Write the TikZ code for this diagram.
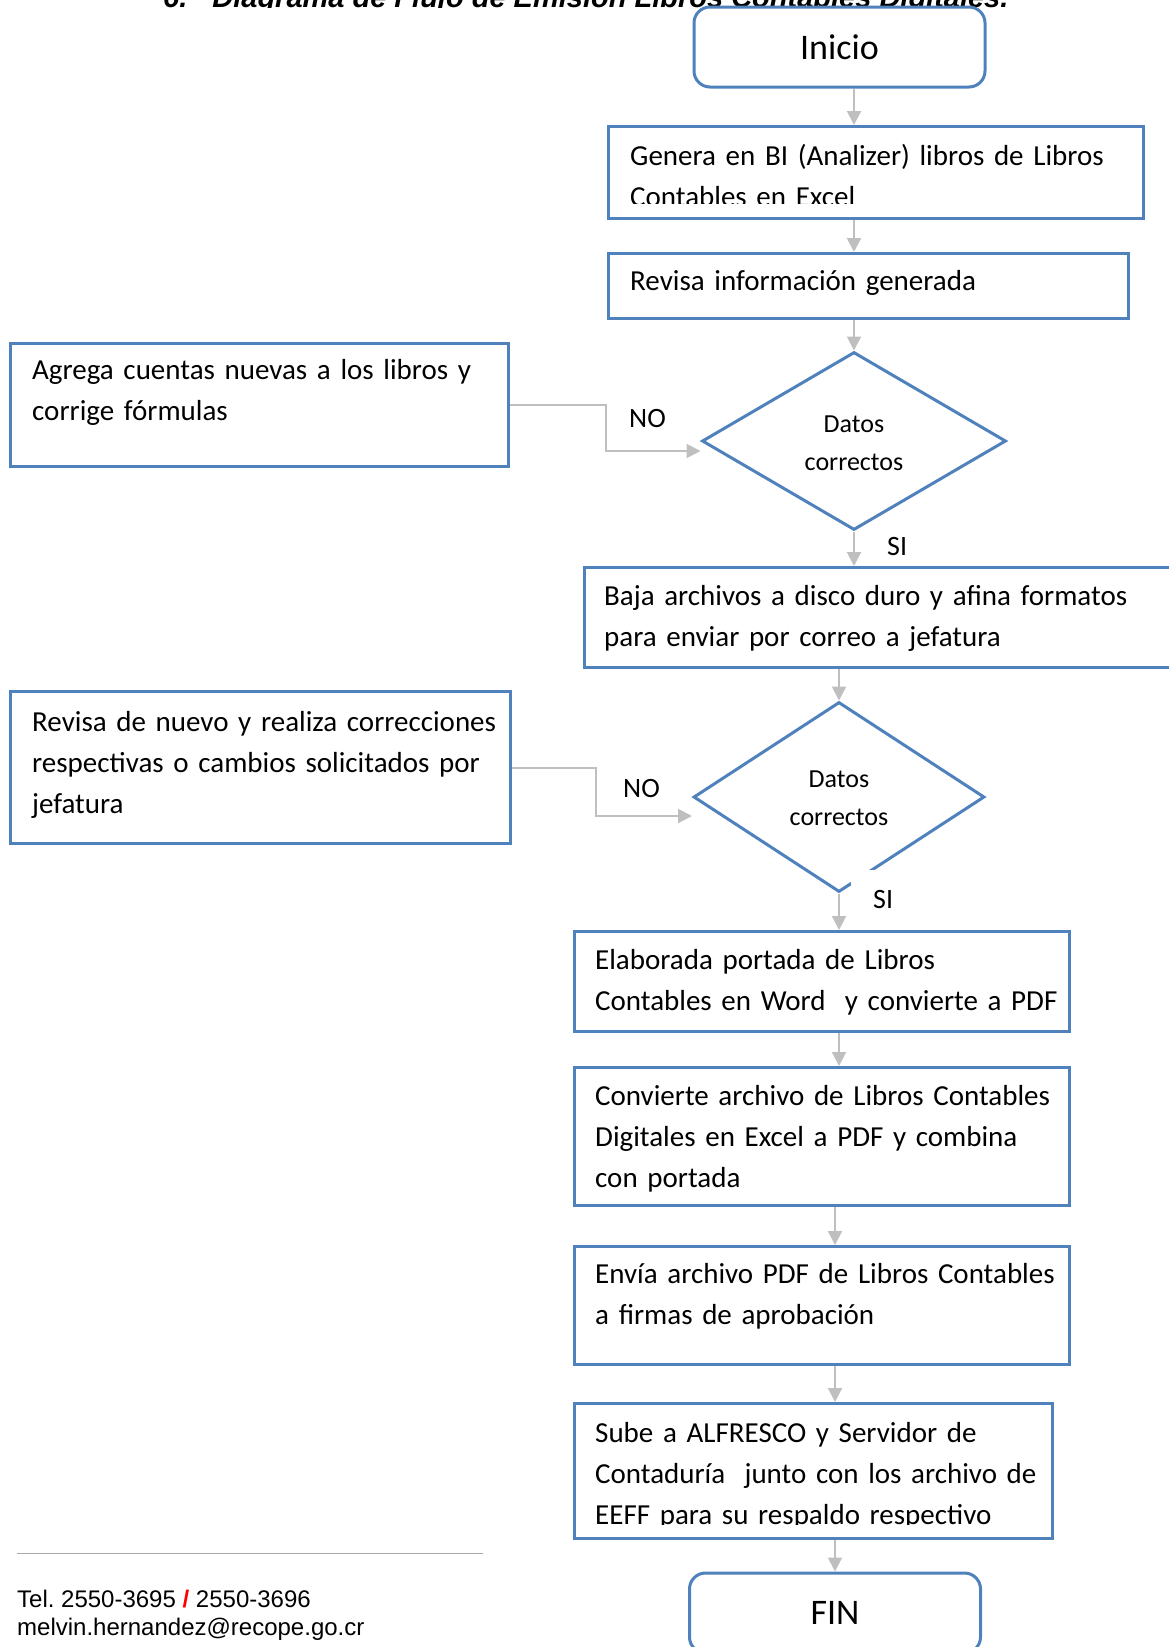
\documentclass[tikz,border=0pt]{standalone}
\usepackage{fontspec}
\setmainfont{Carlito}
\newfontfamily\arialfont{Liberation Sans}
\usetikzlibrary{shapes.geometric,arrows.meta,calc}
\definecolor{boxblue}{RGB}{79,129,189}
\definecolor{flowgray}{RGB}{191,191,191}
\definecolor{rulegray}{RGB}{170,170,170}
\frenchspacing
% box text with slightly tighter word gaps
\newcommand\boxfont{\fontsize{29}{41}\selectfont\spaceskip 5pt\relax}
\begin{document}
\begin{tikzpicture}[x=1pt,y=-1pt,
  procbox/.style={draw=boxblue,line width=3pt,fill=white,inner sep=0pt,anchor=north west},
  termbox/.style={draw=boxblue,line width=3pt,fill=white,rounded corners=16pt,
    minimum width=291pt,minimum height=80pt,inner sep=0pt,font=\fontsize{36}{43}\selectfont},
  decision/.style={diamond,draw=boxblue,line width=3pt,fill=white,inner sep=0pt},
  boxtext/.style={anchor=base west,inner sep=0pt,text width=600pt,align=left,font=\boxfont},
  dtext/.style={anchor=base,inner sep=0pt,text width=200pt,align=center,
    font=\fontsize{26}{38}\selectfont},
  tag/.style={anchor=base west,inner sep=0pt,font=\fontsize{28}{34}\selectfont},
  flow/.style={draw=flowgray,line width=2pt,-{Triangle[length=14pt,width=14pt]}},
  foot/.style={anchor=base west,inner sep=0pt,font=\arialfont\fontsize{24}{28}\selectfont},
]
\useasboundingbox (0,0) rectangle (1169,1647);
\clip (0,0) rectangle (1169,1647);

% section heading, partly hidden behind the drawing canvas
\begin{scope}
  \clip (0,0) rectangle (1169,7);
  \node[anchor=base west,inner sep=0pt,font=\arialfont\bfseries\itshape\fontsize{29}{34}\selectfont]
    (heading) at (163,7.5) {6.\hspace{25pt}Diagrama de Flujo de Emisión Libros Contables Digitales.};
\end{scope}

% start
\node[termbox] (inicio) at (839.5,47) {Inicio};

% generate books
\node[procbox,minimum width=535pt,minimum height=92pt] (genera) at (607,125) {};
\begin{scope}
  \clip (genera.north west) rectangle ($(genera.south east)+(0,-17)$);
  \node[boxtext] (generatxt) at ($(genera.north west)+(23,40)$)
    {Genera en BI (Analizer) libros de Libros\\Contables en Excel};
\end{scope}

% review
\node[procbox,minimum width=520pt,minimum height=65pt] (revinfo) at (607,252) {};
\node[boxtext] (revinfotxt) at ($(revinfo.north west)+(23,38)$) {Revisa información generada};

% first decision
\node[decision,minimum width=304pt,minimum height=178pt] (dec1) at (854,441) {};
\node[dtext] (dec1txt) at (854,432) {Datos\\correctos};

% corrections (first loop)
\node[procbox,minimum width=498pt,minimum height=123pt] (agrega) at (9,342) {};
\node[boxtext] (agregatxt) at ($(agrega.north west)+(23,37)$)
  {Agrega cuentas nuevas a los libros y\\corrige fórmulas};

% download and format
\node[procbox,minimum width=640pt,minimum height=100pt] (baja) at (583,566) {};
\node[boxtext] (bajatxt) at ($(baja.north west)+(21,39)$)
  {Baja archivos a disco duro y afina formatos\\para enviar por correo a jefatura};

% second decision
\node[decision,minimum width=291pt,minimum height=190pt] (dec2) at (839,797) {};
\node[dtext] (dec2txt) at (839,787) {Datos\\correctos};

% corrections (second loop)
\node[procbox,minimum width=500pt,minimum height=152pt] (revnuevo) at (9,690) {};
\node[boxtext] (revnuevotxt) at ($(revnuevo.north west)+(23,41)$)
  {Revisa de nuevo y realiza correcciones\\respectivas o cambios solicitados por\\jefatura};

% branch labels
\node[tag] (no1) at (629,427) {NO};
\node[tag] (si1) at (887,555) {SI};
\node[tag] (no2) at (623,797) {NO};
\node[fill=white,inner sep=0pt,minimum width=64pt,minimum height=58pt,anchor=north west,
  font=\fontsize{28}{34}\selectfont] (si2) at (851,870) {SI};

% cover page
\node[procbox,minimum width=495pt,minimum height=100pt] (elab) at (573,930) {};
\node[boxtext] (elabtxt) at ($(elab.north west)+(22,39)$)
  {Elaborada portada de Libros\\Contables en Word\ \ y convierte a PDF};

% convert
\node[procbox,minimum width=495pt,minimum height=138pt] (conv) at (573,1066) {};
\node[boxtext] (convtxt) at ($(conv.north west)+(22,39)$)
  {Convierte archivo de Libros Contables\\Digitales en Excel a PDF y combina\\con portada};

% send for approval
\node[procbox,minimum width=495pt,minimum height=118pt] (envia) at (573,1245) {};
\node[boxtext] (enviatxt) at ($(envia.north west)+(22,38)$)
  {Envía archivo PDF de Libros Contables\\a firmas de aprobación};

% upload
\node[procbox,minimum width=478pt,minimum height=135pt] (sube) at (573,1402) {};
\begin{scope}
  \clip (sube.north west) rectangle ($(sube.south east)+(0,-16)$);
  \node[boxtext] (subetxt) at ($(sube.north west)+(22,40)$)
    {Sube a ALFRESCO y Servidor de\\Contaduría\ \ junto con los archivo de\\EEFF para su respaldo respectivo};
\end{scope}

% end
\node[termbox] (fin) at (835,1613) {FIN};

% main flow
\draw[flow] (inicio.south -| dec1.center) -- (genera.north -| dec1.center);
\draw[flow] (genera.south -| dec1.center) -- (revinfo.north -| dec1.center);
\draw[flow] (revinfo.south -| dec1.center) -- (dec1.north);
\draw[flow] (dec1.south) -- (baja.north -| dec1.center);
\draw[flow] (baja.south -| dec2.center) -- (dec2.north);
\draw[flow] (dec2.south) -- (elab.north -| dec2.center);
\draw[flow] (elab.south -| dec2.center) -- (conv.north -| dec2.center);
\draw[flow] (conv.south -| fin.center) -- (envia.north -| fin.center);
\draw[flow] (envia.south -| fin.center) -- (sube.north -| fin.center);
\draw[flow] (sube.south -| fin.center) -- (fin.north);

% correction loops
\coordinate (bend1) at (606,451);
\draw[flow] (agrega.east) -| (bend1) -- (bend1 -| dec1.west);
\coordinate (bend2) at (596,816);
\draw[flow] (revnuevo.east) -| (bend2) -- (bend2 -| dec2.west);

% footer
\coordinate (rulestart) at (17,1553);
\coordinate (ruleend) at (483,1553);
\draw[rulegray,line width=1pt] (rulestart) -- (ruleend);
\node[foot] (tel) at (17,1607) {Tel. 2550-3695 {\color{red}\bfseries /} 2550-3696};
\node[foot] (mail) at (17,1635) {melvin.hernandez@recope.go.cr};
\end{tikzpicture}
\end{document}
